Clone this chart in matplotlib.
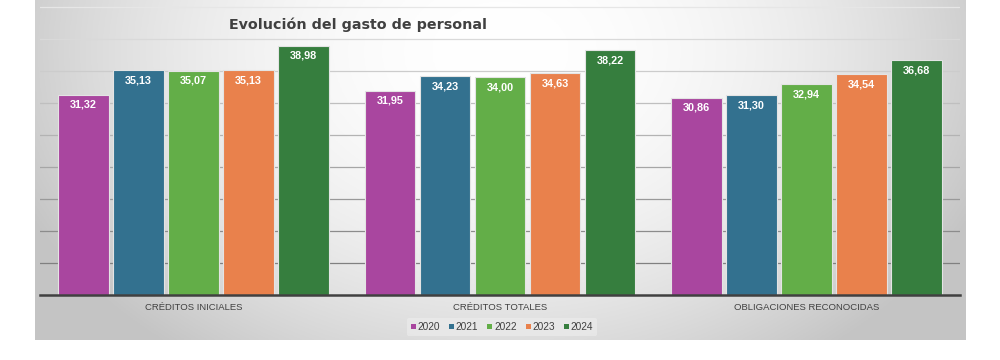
import numpy as np
import matplotlib
matplotlib.use("Agg")
import matplotlib.pyplot as plt
from matplotlib.patches import Patch
from matplotlib import font_manager

categorias = ["CRÉDITOS INICIALES", "CRÉDITOS TOTALES", "OBLIGACIONES RECONOCIDAS"]
anios = ["2020", "2021", "2022", "2023", "2024"]
v2020 = [31.32, 31.95, 30.86]
v2021 = [35.13, 34.23, 31.30]
v2022 = [35.07, 34.00, 32.94]
v2023 = [35.13, 34.63, 34.54]
v2024 = [38.98, 38.22, 36.68]
series = [v2020, v2021, v2022, v2023, v2024]
colores = ["#a9469f", "#33718f", "#63ae48", "#e9814c", "#367e3e"]

nombres = {f.name for f in font_manager.fontManager.ttflist}
narrow = "Liberation Sans Narrow" if "Liberation Sans Narrow" in nombres else "Liberation Sans"

fig = plt.figure(figsize=(10, 3.6), dpi=100)

# fondo degradado del panel
bg = fig.add_axes([0.035, 20 / 360, 0.93, 340 / 360])
bg.set_axis_off()
yy, xx = np.mgrid[0:1:200j, 0:1:400j]
d = np.sqrt(((xx - 0.5) / 0.55) ** 2 + ((yy - 0.15) / 1.1) ** 2)
g = np.clip(1 - 0.22 * d ** 2, 0.77, 1)
bg.imshow(np.dstack([g, g, g]), aspect="auto", extent=[0, 1, 1, 0])

ax = fig.add_axes([0.04, 65 / 360, 0.92, 295 / 360])
ax.patch.set_alpha(0)
x = np.arange(len(categorias))
paso = 0.1793
w = 0.166

# lineas de cuadricula, mas oscuras abajo
niveles = np.arange(5, 50, 5)
tonos = np.linspace(0.5, 0.9, len(niveles))
for nv, t in zip(niveles, tonos):
    ax.axhline(nv, color=(t, t, t), lw=0.9, zorder=0)

for i, (vals, c) in enumerate(zip(series, colores)):
    pos = x + (i - 2) * paso
    bars = ax.bar(pos, vals, width=w, color=c, edgecolor="#e4e4e4", linewidth=0.8,
                  label=anios[i], zorder=2)
    for b, v in zip(bars, vals):
        ax.annotate(f"{v:.2f}".replace(".", ","), (b.get_x() + b.get_width() / 2, v),
                    xytext=(0, -7.5), textcoords="offset points", ha="center", va="center",
                    color="white", fontsize=7.8, fontweight="bold", family=narrow, zorder=3)

ax.set_xlim(-0.5, 2.5)
ax.set_ylim(0, 46.1)
ax.set_yticks([])
ax.set_xticks(x)
ax.set_xticklabels(categorias, fontsize=6.8, color="#404040", family=narrow)
ax.tick_params(axis="x", length=0, pad=6)
for s in ["top", "right", "left"]:
    ax.spines[s].set_visible(False)
ax.spines["bottom"].set_color("#404040")
ax.spines["bottom"].set_linewidth(1.8)

fig.text(0.358, 1 - 25 / 360, "Evolución del gasto de personal",
         fontsize=10.3, fontweight="bold", color="#404040", ha="center", va="center")

handles = [Patch(facecolor=c, label=a) for c, a in zip(colores, anios)]
leg = fig.legend(handles=handles, loc="center", bbox_to_anchor=(0.502, 33 / 360), ncol=5,
                 frameon=True, facecolor="#eeeeee", edgecolor="none", framealpha=0.6,
                 handlelength=0.5, handleheight=0.5, handletextpad=0.15,
                 columnspacing=0.9, borderpad=0.4, labelcolor="#404040",
                 prop={"family": "Liberation Sans", "size": 7.3})

fig.savefig("out.png", dpi=100)
